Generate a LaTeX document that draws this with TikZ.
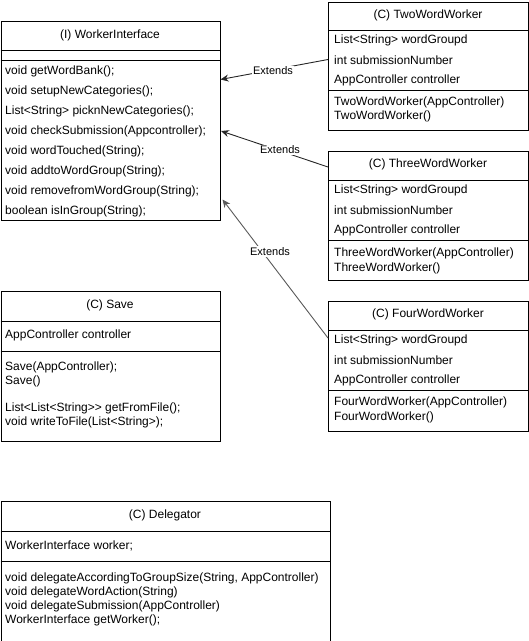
\documentclass[tikz,border=0pt]{standalone}
\usepackage{fontspec}
\setmainfont{Liberation Sans}
\usetikzlibrary{arrows.meta}
\tikzset{
  box/.style={draw=black, line width=0.9pt, fill=white, inner sep=0pt, anchor=north west},
  txt/.style={anchor=west, inner sep=0pt, font=\fontsize{12}{14}\selectfont, text=black},
  ttl/.style={anchor=center, inner sep=0pt, font=\fontsize{12}{14}\selectfont, text=black},
  sep/.style={draw=black, line width=0.9pt},
  ext/.style={draw=black!85, line width=0.9pt, -{Stealth[length=8pt,width=7pt]}},
  extg/.style={draw=black!65, line width=0.9pt, -{Stealth[length=8pt,width=7pt]}},
  lbl/.style={fill=white, inner sep=1pt, font=\fontsize{11}{13}\selectfont, text=black}
}
\begin{document}
\begin{tikzpicture}[x=1pt,y=-1pt]
\useasboundingbox (0,0) rectangle (529,641);

% ---- WorkerInterface
\node[box, minimum width=219.5pt, minimum height=199.5pt] (wi) at (0.5,20.5) {};
\draw[sep] (0.5,50) -- (220,50);
\draw[sep] (0.5,60) -- (220,60);
\node[ttl] (wit) at (110,35) {(I) WorkerInterface};
\node[txt] (wi1) at (5,71) {void getWordBank();};
\node[txt] (wi2) at (5,91) {void setupNewCategories();};
\node[txt] (wi3) at (5,111) {List<String> picknNewCategories();};
\node[txt] (wi4) at (5,131) {void checkSubmission(Appcontroller);};
\node[txt] (wi5) at (5,151) {void wordTouched(String);};
\node[txt] (wi6) at (5,171) {void addtoWordGroup(String);};
\node[txt] (wi7) at (5,191) {void removefromWordGroup(String);};
\node[txt] (wi8) at (5,211) {boolean isInGroup(String);};

% ---- TwoWordWorker
\node[box, minimum width=200pt, minimum height=128pt] (two) at (328,2) {};
\draw[sep] (328,30.5) -- (528,30.5);
\draw[sep] (328,90.5) -- (528,90.5);
\node[ttl] (twot) at (428,15.5) {(C) TwoWordWorker};
\node[txt] (two1) at (334,40.5) {List<String> wordGroupd};
\node[txt] (two2) at (334,60.5) {int submissionNumber};
\node[txt] (two3) at (334,80.5) {AppController controller};
\node[txt] (two4) at (334,102) {TwoWordWorker(AppController)};
\node[txt] (two5) at (334,116.5) {TwoWordWorker()};

% ---- ThreeWordWorker
\node[box, minimum width=200pt, minimum height=129pt] (three) at (328,151) {};
\draw[sep] (328,180) -- (528,180);
\draw[sep] (328,240) -- (528,240);
\node[ttl] (threet) at (428,164.5) {(C) ThreeWordWorker};
\node[txt] (three1) at (334,190) {List<String> wordGroupd};
\node[txt] (three2) at (334,210) {int submissionNumber};
\node[txt] (three3) at (334,230) {AppController controller};
\node[txt] (three4) at (334,253) {ThreeWordWorker(AppController)};
\node[txt] (three5) at (334,268) {ThreeWordWorker()};

% ---- FourWordWorker
\node[box, minimum width=200pt, minimum height=130pt] (four) at (328,300.5) {};
\draw[sep] (328,330) -- (528,330);
\draw[sep] (328,390.5) -- (528,390.5);
\node[ttl] (fourt) at (428,314.5) {(C) FourWordWorker};
\node[txt] (four1) at (334,340) {List<String> wordGroupd};
\node[txt] (four2) at (334,360) {int submissionNumber};
\node[txt] (four3) at (334,380) {AppController controller};
\node[txt] (four4) at (334,402.5) {FourWordWorker(AppController)};
\node[txt] (four5) at (334,417) {FourWordWorker()};

% ---- Save
\node[box, minimum width=219.5pt, minimum height=150pt] (save) at (0.5,291) {};
\draw[sep] (0.5,321) -- (220,321);
\draw[sep] (0.5,351) -- (220,351);
\node[ttl] (savet) at (110,305.5) {(C) Save};
\node[txt] (save1) at (5,335.5) {AppController controller};
\node[txt] (save2) at (5,367) {Save(AppController);};
\node[txt] (save3) at (5,381) {Save()};
\node[txt] (save4) at (5,408.5) {List<List<String>{}> getFromFile();};
\node[txt] (save5) at (5,422.5) {void writeToFile(List<String>);};

% ---- Delegator
\node[box, minimum width=329.5pt, minimum height=139.5pt] (del) at (0.5,501) {};
\draw[sep] (0.5,531) -- (330,531);
\draw[sep] (0.5,561) -- (330,561);
\node[ttl] (delt) at (165,515.5) {(C) Delegator};
\node[txt] (del1) at (5,545.5) {WorkerInterface worker;};
\node[txt] (del2) at (5,578.5) {void delegateAccordingToGroupSize(String, AppController)};
\node[txt] (del3) at (5,592.5) {void delegateWordAction(String)};
\node[txt] (del4) at (5,606.5) {void delegateSubmission(AppController)};
\node[txt] (del5) at (5,620.5) {WorkerInterface getWorker();};

% ---- connectors
\coordinate (a1s) at (328,59.5);
\coordinate (a1e) at (220.5,79.5);
\coordinate (a2s) at (328,167);
\coordinate (a2e) at (221,131);
\coordinate (a3s) at (328,338);
\coordinate (a3e) at (222.5,199.5);

\draw[ext] (a1s) -- (a1e);
\node[lbl] (l1) at (273,71) {Extends};
\draw[ext] (a2s) -- (a2e);
\node[lbl] (l2) at (280,150) {Extends};
\draw[extg] (a3s) -- (a3e);
\node[lbl] (l3) at (270,251.5) {Extends};
\end{tikzpicture}
\end{document}
